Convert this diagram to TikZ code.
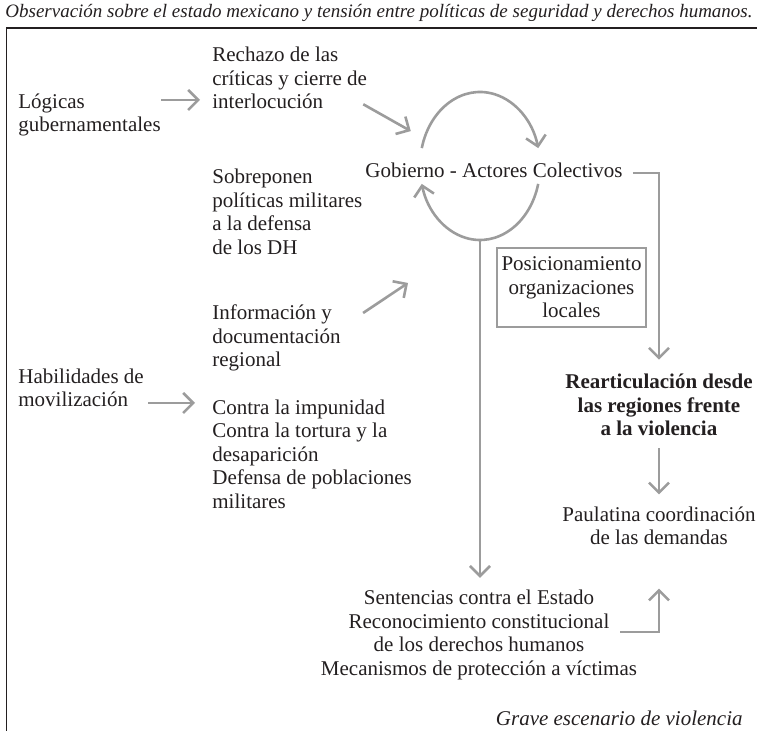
\documentclass[tikz,border=0pt]{standalone}
\usepackage{fontspec}
\setmainfont{Liberation Serif}
\usepackage{tikz}
\usetikzlibrary{arrows.meta}
\definecolor{arrowgray}{HTML}{9C9C9C}
\definecolor{inkdark}{HTML}{231F20}
\tikzset{
  flow/.style={draw=arrowgray, line width=1.3pt, -{Straight Barb[length=5pt, width=10pt]}},
  lbl/.style={inner sep=0pt, align=left, anchor=west, text=inkdark},
  cbl/.style={inner sep=0pt, align=center, text=inkdark},
  posbox/.style={draw=arrowgray, line width=0.6pt, inner sep=2pt, minimum width=74.5pt,
      minimum height=39.5pt, align=center, text=inkdark},
}

\begin{document}
\begin{tikzpicture}[x=0.5pt, y=0.5pt, font=\fontsize{10.5}{11.75}\selectfont]
  \useasboundingbox (0,0) rectangle (757,-731);
  \node[cbl, font=\fontsize{9.5}{11}\selectfont\itshape] (titulo) at (379,-13)
    {Observación sobre el estado mexicano y tensión entre políticas de seguridad y derechos humanos.};
  \draw[inkdark, line width=0.8pt] (6.5,-731) |- (757,-28);
  % columna izquierda
  \node[lbl] (logicas) at (18,-115) {Lógicas\\gubernamentales};
  \node[lbl] (habil) at (18,-388) {Habilidades de\\movilización};
  \node[lbl] (rechazo) at (212,-78) {Rechazo de las\\críticas y cierre de\\interlocución};
  \node[lbl] (sobrep) at (212,-212) {Sobreponen\\políticas militares\\a la defensa\\de los DH};
  \node[lbl] (info) at (212,-338) {Información y\\documentación\\regional};
  \node[lbl] (contra) at (212,-454) {Contra la impunidad\\Contra la tortura y la\\desaparición\\Defensa de poblaciones\\militares};
  % centro
  \node[cbl] (gob) at (494,-170) {Gobierno - Actores Colectivos};
  \coordinate (loop) at (480,-166);
  \coordinate (lpA) at ([shift={(166:30pt and 37pt)}]loop);
  \coordinate (lpC) at ([shift={(-14:30pt and 37pt)}]loop);
  \node[posbox] (posic) at (571.5,-287.5) {Posicionamiento\\organizaciones\\locales};
  \node[cbl, font=\fontsize{10.5}{11.75}\selectfont\bfseries] (reart) at (659,-405)
    {Rearticulación desde\\las regiones frente\\a la violencia};
  \node[cbl] (paul) at (659,-526) {Paulatina coordinación\\de las demandas};
  \node[cbl] (sent) at (479,-635) {Sentencias contra el Estado\\Reconocimiento constitucional\\de los derechos humanos\\Mecanismos de protección a víctimas};
  \node[cbl, anchor=east, font=\fontsize{10.5}{11.75}\selectfont\itshape] (grave) at (743,-718)
    {Grave escenario de violencia};
  \coordinate (infA) at (408,-283);
  % flechas
  \coordinate (lgA) at ([yshift=7.5pt]logicas.east);
  \draw[flow, shorten >=6pt] (lgA) -- (lgA -| rechazo.west);
  \coordinate (hbA) at ([yshift=-7.5pt]habil.east);
  \draw[flow, shorten <=2pt, shorten >=8.5pt] (hbA) -- (hbA -| contra.west);
  \draw[flow] ([xshift=-2pt, yshift=2.5pt]rechazo.south east) -- ([shift={(-5.5pt,8.5pt)}]lpA);
  \draw[flow] ([xshift=11pt, yshift=12.5pt]info.east) -- (infA);
  \draw[flow] (lpA) arc[start angle=166, end angle=14, x radius=30pt, y radius=37pt];
  \draw[flow] (lpC) arc[start angle=-14, end angle=-166, x radius=30pt, y radius=37pt];
  \draw[flow, shorten >=6pt] ([yshift=-37pt]loop) -- (loop |- sent.north);
  \draw[flow, shorten >=7pt] ([xshift=5pt, yshift=-1.5pt]gob.east) -| (reart.north);
  \draw[flow, shorten <=6pt, shorten >=6pt] (reart.south) -- (paul.north);
  \draw[flow, shorten >=21.5pt] ([xshift=-8.5pt, yshift=1.5pt]sent.east) -| (paul.south);
\end{tikzpicture}
\end{document}
